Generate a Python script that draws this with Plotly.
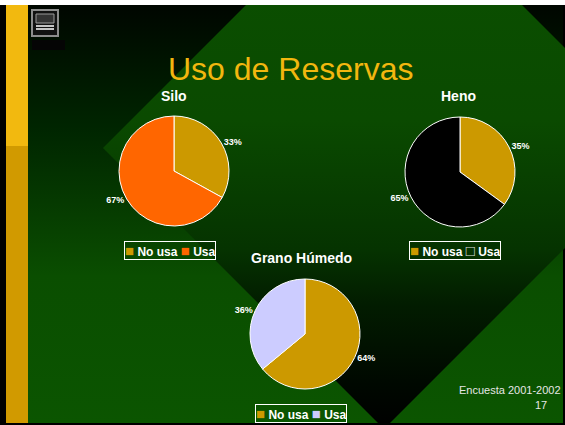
import plotly.graph_objects as go

W, H = 565, 425
FONT = "Liberation Sans, Arial, sans-serif"

# data
titles = ["Silo", "Heno", "Grano Húmedo"]
labels = ["No usa", "Usa"]
silo_values = [33, 67]
heno_values = [35, 65]
grano_values = [64, 36]
silo_colors = ["#CC9900", "#FF6600"]
heno_colors = ["#CC9900", "#000000"]
grano_colors = ["#CC9900", "#CCCCFF"]

# layout of the three pies (pixel centres) and their legends
pie_centers = [(174, 171), (460, 172), (305, 334)]
legend_centers = [(170, 250), (455, 250), (301, 413)]
title_pos = [(174, 96), (458, 96), (301, 258)]
R = 55

fig = go.Figure()

# slide background: black at top fading to green
fig.add_trace(go.Scatter(
    x=[6, 563, 563, 6, 6], y=[5, 5, 423, 423, 5],
    mode="none", fill="toself", hoverinfo="skip",
    fillgradient=dict(type="vertical", start=0, stop=425,
                      colorscale=[[0, "#000500"], [0.3, "#002500"],
                                  [0.65, "#0A4E00"], [1, "#0B5500"]]),
))

# the big rotated square, green at top fading to black
fig.add_trace(go.Scatter(
    x=[103, 384, 665, 384, 103], y=[148, -133, 148, 429, 148],
    mode="none", fill="toself", hoverinfo="skip",
    fillgradient=dict(type="vertical", start=-133, stop=429,
                      colorscale=[[0, "#0B5200"], [0.45, "#0A4A00"],
                                  [0.68, "#053300"], [0.78, "#021C00"],
                                  [0.92, "#000800"], [1, "#000000"]]),
))

data = [silo_values, heno_values, grano_values]
colors = [silo_colors, heno_colors, grano_colors]

for vals, cols, (cx, cy) in zip(data, colors, pie_centers):
    fig.add_trace(go.Pie(
        labels=labels, values=vals, sort=False, direction="clockwise",
        rotation=0,
        marker=dict(colors=cols, line=dict(color="white", width=1)),
        textinfo="percent", textposition="outside",
        textfont=dict(family=FONT, size=9, color="white", weight="bold"),
        domain=dict(x=[(cx - R) / W, (cx + R) / W],
                    y=[1 - (cy + R) / H, 1 - (cy - R) / H]),
        showlegend=False, hoverinfo="label+percent",
    ))

annotations = []
annotations.append(dict(x=290, y=69, text="Uso de Reservas", showarrow=False,
                        font=dict(family=FONT, size=32, color="#F2B70F")))
for t, (tx, ty) in zip(titles, title_pos):
    annotations.append(dict(x=tx, y=ty, text="<b>%s</b>" % t, showarrow=False,
                            font=dict(family=FONT, size=14, color="white")))

# small legend boxes under each pie
for cols, (lx, ly) in zip(colors, legend_centers):
    parts = []
    for lab, c in zip(labels, cols):
        if c == "#000000":
            # black swatch shows as an outlined square on the slide
            sw = "<span style='color:#E0E0E0;font-size:15px'>□</span>"
        else:
            sw = "<span style='color:%s;font-size:15px'>■</span>" % c
        parts.append(sw + " " + lab)
    annotations.append(dict(x=lx, y=ly, text="<b>" + " ".join(parts) + "</b>",
                            showarrow=False, bordercolor="white", borderwidth=1,
                            borderpad=0,
                            font=dict(family=FONT, size=12, color="white")))

annotations.append(dict(x=510, y=390, text="Encuesta 2001-2002", showarrow=False,
                        font=dict(family=FONT, size=11, color="#E6E6E6")))
annotations.append(dict(x=541, y=405, text="17", showarrow=False,
                        font=dict(family=FONT, size=11, color="#E6E6E6")))
for a in annotations:
    a["xref"] = "x"
    a["yref"] = "y"

shapes = [
    # white strip at the very top
    dict(type="rect", x0=0, x1=W, y0=0, y1=5, fillcolor="white", line_width=0),
    # yellow bar on the left
    dict(type="rect", x0=6, x1=28, y0=5, y1=146, fillcolor="#F2B90F", line_width=0),
    dict(type="rect", x0=6, x1=28, y0=146, y1=423, fillcolor="#D19A00", line_width=0),
    # logo
    dict(type="rect", x0=32, x1=58, y0=10, y1=36, fillcolor="#111111",
         line=dict(color="#8C8C8C", width=2)),
    dict(type="rect", x0=36, x1=54, y0=14, y1=23, fillcolor="#333333",
         line=dict(color="#9A9A9A", width=1)),
    dict(type="line", x0=36, x1=54, y0=26, y1=26, line=dict(color="white", width=1.5)),
    dict(type="line", x0=36, x1=54, y0=29, y1=29, line=dict(color="white", width=1.5)),
    dict(type="rect", x0=32, x1=65, y0=40, y1=50, fillcolor="#050505", line_width=0),
]
for s in shapes:
    s["xref"] = "x"
    s["yref"] = "y"
    s["layer"] = "above"

fig.update_layout(
    width=W, height=H,
    margin=dict(l=0, r=0, t=0, b=0),
    paper_bgcolor="black", plot_bgcolor="black",
    showlegend=False,
    xaxis=dict(range=[0, W], visible=False, fixedrange=True),
    yaxis=dict(range=[H, 0], visible=False, fixedrange=True),
    annotations=annotations,
    shapes=shapes,
)

fig.write_html("out.html", config={"displayModeBar": False},
               post_script="document.body.style.margin='0';")
